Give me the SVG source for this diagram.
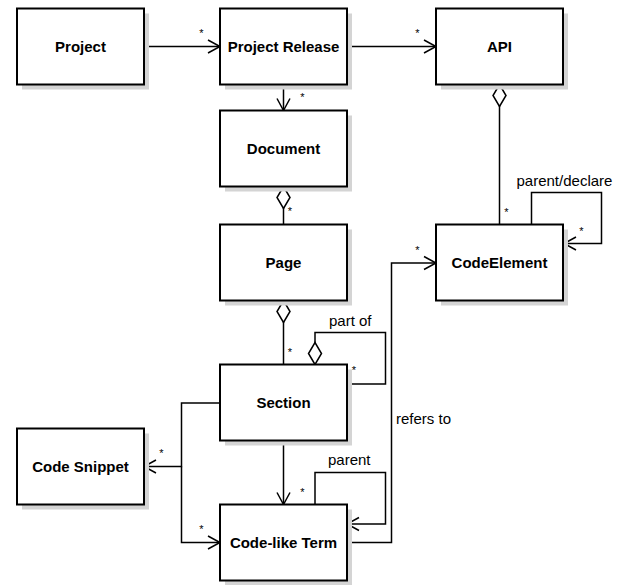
<svg xmlns="http://www.w3.org/2000/svg" width="623" height="585" viewBox="0 0 623 585">
<style>
.shadow{fill:#d4d4d4;stroke:none}
.box{fill:#fff;stroke:#000;stroke-width:2}
.name{font-family:"Liberation Sans",Arial,sans-serif;font-size:15px;font-weight:bold;text-anchor:middle;fill:#000}
.lbl{font-family:"Liberation Sans",Arial,sans-serif;font-size:15px;fill:#000}
.m{font-family:"Liberation Sans",Arial,sans-serif;font-size:11px;text-anchor:middle;fill:#000}
.c{fill:none;stroke:#000;stroke-width:1.5}
.arr{marker-end:url(#open)}
.agg{marker-start:url(#dia)}
</style>
<defs>
<marker id="open" markerUnits="userSpaceOnUse" markerWidth="16" markerHeight="16" viewBox="-1 -1 16 16" refX="12" refY="6.5" orient="auto" overflow="visible">
<path d="M0,0 L12,6.5 L0,13" fill="none" stroke="#000" stroke-width="1.5"/>
</marker>
<marker id="dia" markerUnits="userSpaceOnUse" markerWidth="26" markerHeight="16" viewBox="-1 -1 26 16" refX="0" refY="6.5" orient="auto" overflow="visible">
<path d="M0,6.5 L11,0 L22,6.5 L11,13 Z" fill="#fff" stroke="#000" stroke-width="1.5"/>
</marker>
</defs>
<rect width="623" height="585" fill="#fff"/>

<g id="connectors">
<path class="c arr" d="M144,46.5 H220"/>
<path class="c arr" d="M347,46.5 H436"/>
<path class="c arr" d="M283.5,84.5 V110.5"/>
<path class="c agg" d="M283.5,186.5 V224.5"/>
<path class="c agg" d="M499.5,84.5 V224.5"/>
<path class="c arr" d="M531.5,224.5 V192.5 H601.5 V243.5 H564"/>
<path class="c agg" d="M283.5,300.5 V364.5"/>
<path class="c agg" d="M315,364.5 V332.5 H385.5 V384 H347"/>
<path class="c arr" d="M220,403 H181.5 V466.5 H144"/>
<path class="c arr" d="M181.5,466.5 V542.5 H220"/>
<path class="c arr" d="M283.5,440.5 V504.5"/>
<path class="c arr" d="M315,504.5 V472.5 H385.5 V524 H347"/>
<path class="c arr" d="M347,542.5 H391.5 V263 H436"/>
<text class="m" x="201.5" y="37">*</text>
<text class="m" x="417.5" y="37">*</text>
<text class="m" x="302.5" y="101">*</text>
<text class="m" x="290" y="214.5">*</text>
<text class="m" x="506.5" y="215.5">*</text>
<text class="m" x="581.5" y="234.5">*</text>
<text class="m" x="417.5" y="253.5">*</text>
<text class="m" x="290" y="355.5">*</text>
<text class="m" x="354" y="374">*</text>
<text class="m" x="161.5" y="457">*</text>
<text class="m" x="201.5" y="533">*</text>
<text class="m" x="302.5" y="495.5">*</text>
<text class="lbl" x="516.5" y="186">parent/declare</text>
<text class="lbl" x="329" y="325.5">part of</text>
<text class="lbl" x="328" y="465">parent</text>
<text class="lbl" x="396" y="423.5">refers to</text>
</g>

<g id="project">
<rect class="shadow" x="22" y="13.5" width="127" height="76"/>
<rect class="box" x="17" y="8.5" width="127" height="76"/>
<text class="name" x="80.5" y="52">Project</text>
</g>
<g id="project-release">
<rect class="shadow" x="225" y="13.5" width="127" height="76"/>
<rect class="box" x="220" y="8.5" width="127" height="76"/>
<text class="name" x="283.5" y="52">Project Release</text>
</g>
<g id="api">
<rect class="shadow" x="441" y="13.5" width="127" height="76"/>
<rect class="box" x="436" y="8.5" width="127" height="76"/>
<text class="name" x="499.5" y="52">API</text>
</g>
<g id="document">
<rect class="shadow" x="225" y="115.5" width="127" height="76"/>
<rect class="box" x="220" y="110.5" width="127" height="76"/>
<text class="name" x="283.5" y="154">Document</text>
</g>
<g id="page">
<rect class="shadow" x="225" y="229.5" width="127" height="76"/>
<rect class="box" x="220" y="224.5" width="127" height="76"/>
<text class="name" x="283.5" y="268">Page</text>
</g>
<g id="code-element">
<rect class="shadow" x="441" y="229.5" width="127" height="76"/>
<rect class="box" x="436" y="224.5" width="127" height="76"/>
<text class="name" x="499.5" y="268">CodeElement</text>
</g>
<g id="section">
<rect class="shadow" x="225" y="369.5" width="127" height="76"/>
<rect class="box" x="220" y="364.5" width="127" height="76"/>
<text class="name" x="283.5" y="408">Section</text>
</g>
<g id="code-snippet">
<rect class="shadow" x="22" y="433.5" width="127" height="76"/>
<rect class="box" x="17" y="428.5" width="127" height="76"/>
<text class="name" x="80.5" y="472">Code Snippet</text>
</g>
<g id="code-like-term">
<rect class="shadow" x="225" y="509.5" width="127" height="76"/>
<rect class="box" x="220" y="504.5" width="127" height="76"/>
<text class="name" x="283.5" y="548">Code-like Term</text>
</g>
</svg>
